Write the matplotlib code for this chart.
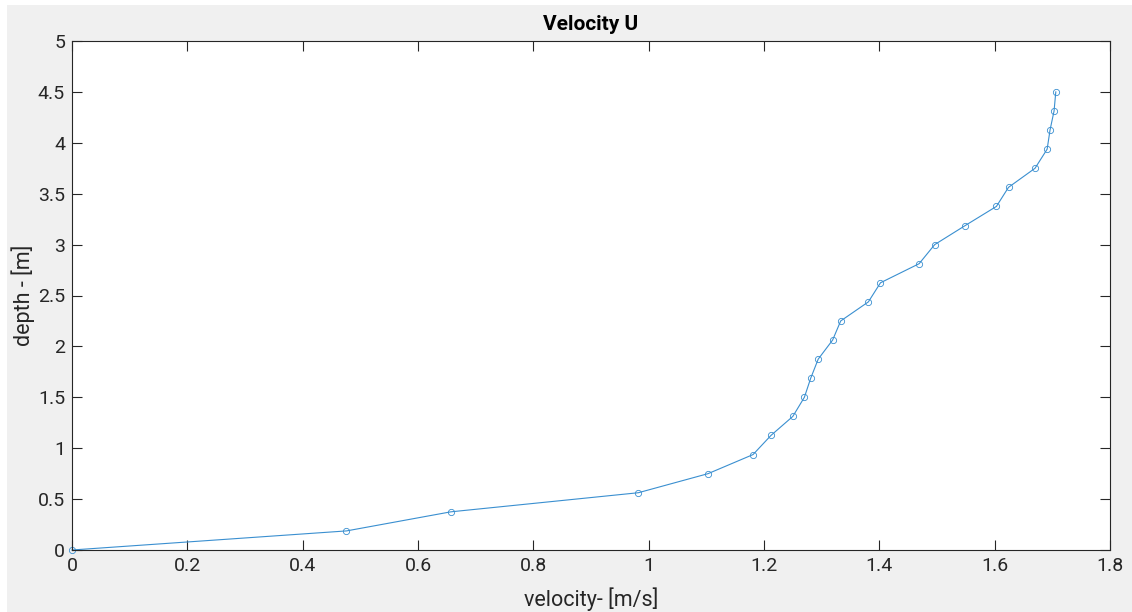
import matplotlib
matplotlib.use("Agg")
import matplotlib.pyplot as plt
from matplotlib.patches import Rectangle

# velocity profile
velocidad = [0.0, 0.476, 0.657, 0.982, 1.103, 1.181, 1.212, 1.250, 1.270, 1.281,
             1.294, 1.319, 1.333, 1.381, 1.402, 1.469, 1.496, 1.549, 1.603, 1.624,
             1.670, 1.691, 1.696, 1.703, 1.706]
profundidad = [0.0, 0.1875, 0.375, 0.5625, 0.75, 0.9375, 1.125, 1.3125, 1.5, 1.6875,
               1.875, 2.0625, 2.25, 2.4375, 2.625, 2.8125, 3.0, 3.1875, 3.375, 3.5625,
               3.75, 3.9375, 4.125, 4.3125, 4.5]

xticks = [0, 0.2, 0.4, 0.6, 0.8, 1, 1.2, 1.4, 1.6, 1.8]
xtick_labels = ["0", "0.2", "0.4", "0.6", "0.8", "1", "1.2", "1.4", "1.6", "1.8"]
yticks = [0, 0.5, 1, 1.5, 2, 2.5, 3, 3.5, 4, 4.5, 5]
ytick_labels = ["0", "0.5", "1", "1.5", "2", "2.5", "3", "3.5", "4", "4.5", "5"]

plt.rcParams['font.family'] = ['Roboto', 'DejaVu Sans']

fig = plt.figure(figsize=(11.32, 6.12), dpi=100, facecolor='white')
# gray window background (thin white strip at top/left as in the screenshot)
fig.patches.append(Rectangle((7 / 1132, 0), 1, 1 - 5 / 612, transform=fig.transFigure,
                             facecolor='#f0f0f0', edgecolor='none', zorder=-1))

ax = fig.add_axes([72 / 1132, 1 - 550 / 612, (1110 - 72) / 1132, (550 - 41) / 612])
ax.set_facecolor('white')

ax.plot(velocidad, profundidad, color='#3a8fd0', linewidth=0.8, marker='o',
        markersize=4.5, markerfacecolor='none', markeredgewidth=0.6, clip_on=False)

ax.set_xlim(0, 1.8)
ax.set_ylim(0, 5)
ax.set_xticks(xticks)
ax.set_xticklabels(xtick_labels)
ax.set_yticks(yticks)
ax.set_yticklabels(ytick_labels)

ax.tick_params(direction='in', top=True, right=True, length=7, width=0.8,
               colors='#262626', labelsize=14, pad=5)
for s in ax.spines.values():
    s.set_color('#262626')
    s.set_linewidth(0.8)

ax.set_title("Velocity U", fontsize=15, fontweight='bold', color='#000000', pad=8)
ax.set_xlabel("velocity- [m/s]", fontsize=15.5, color='#262626', labelpad=9)
ax.set_ylabel("depth - [m]", fontsize=15.5, color='#262626', labelpad=2)

fig.savefig("out.png", dpi=100, facecolor=fig.get_facecolor())
